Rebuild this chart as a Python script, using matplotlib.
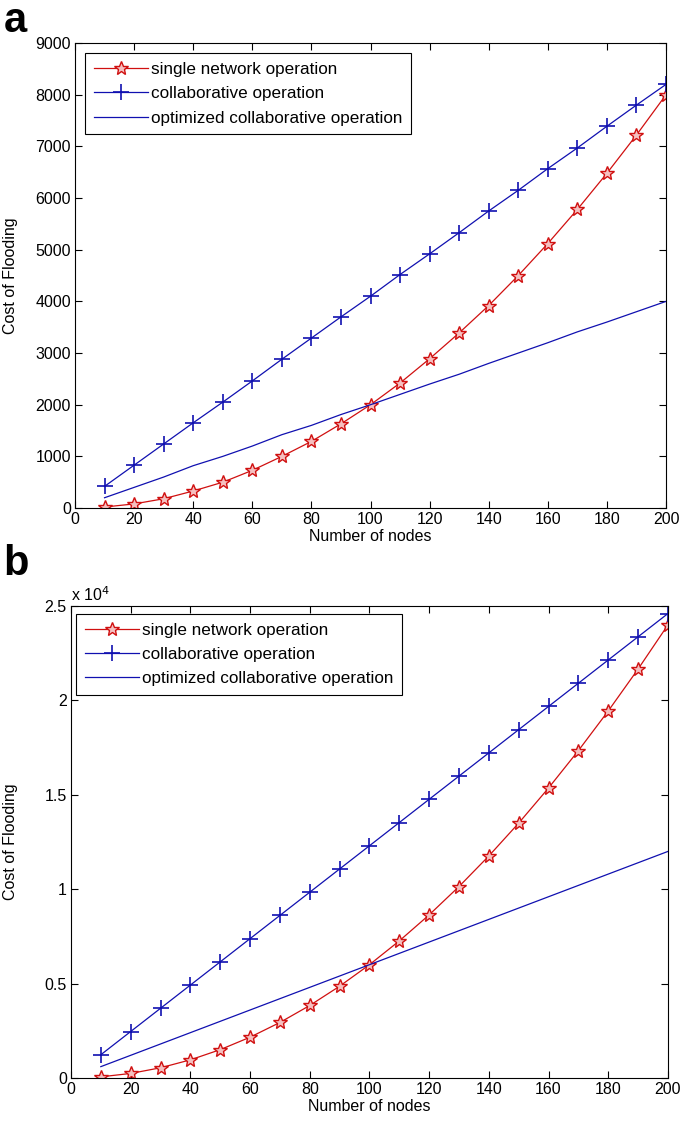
import matplotlib
matplotlib.use("Agg")
import matplotlib.pyplot as plt
from matplotlib.ticker import FuncFormatter

plt.rcParams['font.family'] = ['Liberation Sans', 'DejaVu Sans']

nodes = [10, 20, 30, 40, 50, 60, 70, 80, 90, 100,
         110, 120, 130, 140, 150, 160, 170, 180, 190, 200]

# panel a
single_a = [20, 80, 180, 330, 500, 730, 1000, 1290, 1630, 2000,
            2420, 2890, 3390, 3920, 4500, 5120, 5780, 6480, 7220, 8000]
collab_a = [420, 830, 1240, 1650, 2050, 2460, 2880, 3290, 3700, 4100,
            4520, 4920, 5330, 5750, 6150, 6570, 6970, 7390, 7800, 8200]
optim_a = [200, 400, 600, 820, 1000, 1200, 1420, 1600, 1810, 2000,
           2200, 2400, 2590, 2800, 3000, 3200, 3410, 3600, 3800, 4000]

# panel b
single_b = [60, 240, 540, 960, 1500, 2160, 2940, 3840, 4860, 6000,
            7260, 8640, 10140, 11760, 13500, 15360, 17340, 19440, 21660, 24000]
collab_b = [1230, 2460, 3690, 4920, 6150, 7380, 8610, 9840, 11070, 12300,
            13530, 14760, 15990, 17220, 18450, 19680, 20910, 22140, 23370, 24600]
optim_b = [600, 1200, 1800, 2400, 3000, 3600, 4200, 4800, 5400, 6000,
           6600, 7200, 7800, 8400, 9000, 9600, 10200, 10800, 11400, 12000]

labels = ['single network operation', 'collaborative operation',
          'optimized collaborative operation']

RED = '#d01010'
BLUE = '#1010b0'

fig = plt.figure(figsize=(6.85, 11.27), dpi=100)
ax_a = fig.add_axes([0.1095, 0.5492, 0.8628, 0.4126])
ax_b = fig.add_axes([0.1036, 0.0435, 0.8715, 0.4188])


def draw(ax, single, collab, optim, ymax, ystep, anchor, ylab_x):
    ax.plot(nodes, single, color=RED, lw=0.9, marker='*', ms=10,
            mfc='#f5c0c0', mec=RED, mew=1.0, label=labels[0])
    ax.plot(nodes, collab, color=BLUE, lw=0.9, marker='+', ms=11,
            mew=1.2, label=labels[1])
    ax.plot(nodes, optim, color=BLUE, lw=0.9, label=labels[2])
    ax.set_xlim(0, 200)
    ax.set_ylim(0, ymax)
    ax.set_xticks(range(0, 201, 20))
    ax.set_yticks([i * ystep for i in range(int(round(ymax / ystep)) + 1)])
    ax.tick_params(direction='in', top=True, right=True, labelsize=11.5,
                   length=5, width=0.8, pad=3)
    for s in ax.spines.values():
        s.set_linewidth(0.8)
    ax.set_xlabel('Number of nodes', fontsize=11.5, labelpad=1)
    ax.set_ylabel('Cost of Flooding', fontsize=11.5)
    ax.yaxis.set_label_coords(ylab_x, 0.5)
    leg = ax.legend(loc='upper left', bbox_to_anchor=anchor, fontsize=12.3,
                    fancybox=False, edgecolor='black', framealpha=1,
                    handlelength=3.2, handletextpad=0.15, borderaxespad=0,
                    labelspacing=0.55, borderpad=0.5)
    leg.get_frame().set_linewidth(0.8)


draw(ax_a, single_a, collab_a, optim_a, 9000, 1000, (0.017, 0.978), -0.0965)
draw(ax_b, single_b, collab_b, optim_b, 25000, 5000, (0.0084, 0.983), -0.089)

ax_b.yaxis.set_major_formatter(FuncFormatter(lambda v, p: ('%g' % (v / 1e4))))
ax_b.text(0.0, 1.004, 'x 10$^{4}$', transform=ax_b.transAxes,
          fontsize=11.5, ha='left', va='bottom')

fig.text(0.005, 0.999, 'a', fontsize=30, fontweight='bold',
         va='top', ha='left')
fig.text(0.005, 0.517, 'b', fontsize=30, fontweight='bold',
         va='top', ha='left')

fig.savefig('out.png', dpi=100)
